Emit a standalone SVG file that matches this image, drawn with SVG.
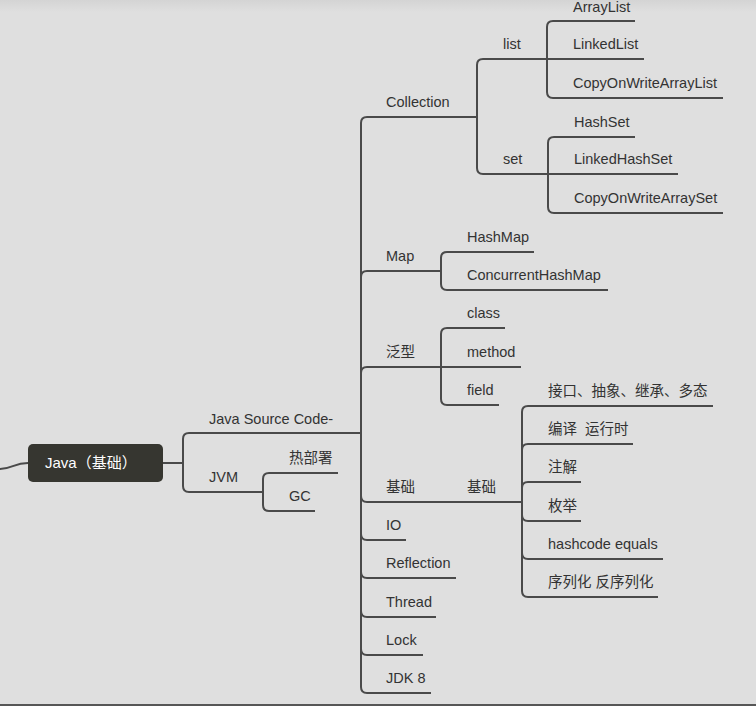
<svg xmlns="http://www.w3.org/2000/svg" width="756" height="706" viewBox="0 0 756 706">
  <defs>
    <linearGradient id="topShade" x1="0" y1="0" x2="0" y2="1">
      <stop offset="0" stop-color="#d4d4d4"/>
      <stop offset="1" stop-color="#dfdfdf"/>
    </linearGradient>
    <style>
      .bg { fill: #dfdfdf; }
      .edge { fill: none; stroke: #4a4a4a; stroke-width: 2; stroke-linecap: butt; stroke-linejoin: round; }
      .lbl { font-family: "Liberation Sans", "Noto Sans CJK SC", sans-serif; font-size: 14.5px; fill: #333333; }
      .root-box { fill: #363630; }
      .root-lbl { font-family: "Liberation Sans", "Noto Sans CJK SC", sans-serif; font-size: 15px; fill: #ffffff; }
    </style>
  </defs>

  <!-- canvas -->
  <rect class="bg" x="0" y="0" width="756" height="706"/>
  <rect x="0" y="0" width="756" height="12" fill="url(#topShade)"/>
  <rect x="0" y="704" width="756" height="2" fill="#565656"/>

  <!-- connectors -->
  <g id="connectors" class="edge">
    <!-- into root -->
    <path d="M0,469 C12,469 14,463 28,463"/>
    <!-- root -> Java Source Code- / JVM -->
    <path d="M162,463 H183"/>
    <path d="M183,463 V439 Q183,433 189,433 H361"/>
    <path d="M183,463 V486 Q183,492 189,492 H263"/>
    <!-- JVM children -->
    <path d="M263,492 V479 Q263,473 269,473 H338"/>
    <path d="M263,492 V505 Q263,511 269,511 H315"/>
    <!-- trunk: Java Source Code- children -->
    <path d="M361,433 V123 Q361,117 367,117 H477"/>
    <path d="M361,433 V277 Q361,271 367,271 H441"/>
    <path d="M361,433 V373 Q361,367 367,367 H441"/>
    <path d="M361,433 V496 Q361,502 367,502 H441"/>
    <path d="M361,433 V534 Q361,540 367,540 H406"/>
    <path d="M361,433 V572 Q361,578 367,578 H456"/>
    <path d="M361,433 V611 Q361,617 367,617 H436"/>
    <path d="M361,433 V649 Q361,655 367,655 H423"/>
    <path d="M361,433 V687 Q361,693 367,693 H431"/>
    <!-- Collection children -->
    <path d="M477,117 V65 Q477,59 483,59 H547"/>
    <path d="M477,117 V168 Q477,174 483,174 H548"/>
    <!-- list children -->
    <path d="M547,59 V27 Q547,21 553,21 H635"/>
    <path d="M547,59 H644"/>
    <path d="M547,59 V92 Q547,98 553,98 H723"/>
    <!-- set children -->
    <path d="M548,174 V143 Q548,137 554,137 H635"/>
    <path d="M548,174 H678"/>
    <path d="M548,174 V207 Q548,213 554,213 H723"/>
    <!-- Map children -->
    <path d="M441,271 V258 Q441,252 447,252 H534"/>
    <path d="M441,271 V284 Q441,290 447,290 H608"/>
    <!-- 泛型 children -->
    <path d="M441,367 V334 Q441,328 447,328 H505"/>
    <path d="M441,367 H521"/>
    <path d="M441,367 V399 Q441,405 447,405 H499"/>
    <!-- 基础 -> 基础 -->
    <path d="M441,502 H522"/>
    <!-- 基础 children -->
    <path d="M522,502 V412 Q522,406 528,406 H713"/>
    <path d="M522,502 V450 Q522,444 528,444 H633"/>
    <path d="M522,502 V488 Q522,482 528,482 H581"/>
    <path d="M522,502 V515 Q522,521 528,521 H581"/>
    <path d="M522,502 V553 Q522,559 528,559 H663"/>
    <path d="M522,502 V591 Q522,597 528,597 H658"/>
  </g>

  <!-- root -->
  <g id="node-root">
    <rect class="root-box" x="28" y="444" width="135" height="38" rx="5"/>
    <text class="root-lbl" x="45" y="468">Java（基础）</text>
  </g>

  <!-- first level -->
  <g id="node-source"><text class="lbl" x="209" y="424">Java Source Code-</text></g>
  <g id="node-jvm"><text class="lbl" x="209" y="482">JVM</text></g>
  <g id="node-hotdeploy"><text class="lbl" x="289" y="463">热部署</text></g>
  <g id="node-gc"><text class="lbl" x="289" y="501">GC</text></g>

  <!-- Java Source Code- children -->
  <g id="node-collection"><text class="lbl" x="386" y="107">Collection</text></g>
  <g id="node-map"><text class="lbl" x="386" y="261">Map</text></g>
  <g id="node-generics"><text class="lbl" x="386" y="357">泛型</text></g>
  <g id="node-basics"><text class="lbl" x="386" y="492">基础</text></g>
  <g id="node-io"><text class="lbl" x="386" y="530">IO</text></g>
  <g id="node-reflection"><text class="lbl" x="386" y="568">Reflection</text></g>
  <g id="node-thread"><text class="lbl" x="386" y="607">Thread</text></g>
  <g id="node-lock"><text class="lbl" x="386" y="645">Lock</text></g>
  <g id="node-jdk8"><text class="lbl" x="386" y="683">JDK 8</text></g>

  <!-- Collection -->
  <g id="node-list"><text class="lbl" x="503" y="49">list</text></g>
  <g id="node-set"><text class="lbl" x="503" y="164">set</text></g>
  <g id="node-arraylist"><text class="lbl" x="573" y="12">ArrayList</text></g>
  <g id="node-linkedlist"><text class="lbl" x="573" y="49">LinkedList</text></g>
  <g id="node-cowlist"><text class="lbl" x="573" y="88">CopyOnWriteArrayList</text></g>
  <g id="node-hashset"><text class="lbl" x="574" y="127">HashSet</text></g>
  <g id="node-linkedhashset"><text class="lbl" x="574" y="164">LinkedHashSet</text></g>
  <g id="node-cowset"><text class="lbl" x="574" y="203">CopyOnWriteArraySet</text></g>

  <!-- Map -->
  <g id="node-hashmap"><text class="lbl" x="467" y="242">HashMap</text></g>
  <g id="node-chm"><text class="lbl" x="467" y="280">ConcurrentHashMap</text></g>

  <!-- 泛型 -->
  <g id="node-class"><text class="lbl" x="467" y="318">class</text></g>
  <g id="node-method"><text class="lbl" x="467" y="357">method</text></g>
  <g id="node-field"><text class="lbl" x="467" y="395">field</text></g>

  <!-- 基础 -->
  <g id="node-basics2"><text class="lbl" x="467" y="492">基础</text></g>
  <g id="node-oop"><text class="lbl" x="548" y="396">接口、抽象、继承、多态</text></g>
  <g id="node-compile"><text class="lbl" x="548" y="434" xml:space="preserve">编译  运行时</text></g>
  <g id="node-annotation"><text class="lbl" x="548" y="472">注解</text></g>
  <g id="node-enum"><text class="lbl" x="548" y="511">枚举</text></g>
  <g id="node-hashcode"><text class="lbl" x="548" y="549">hashcode equals</text></g>
  <g id="node-serial"><text class="lbl" x="548" y="587">序列化 反序列化</text></g>
</svg>
